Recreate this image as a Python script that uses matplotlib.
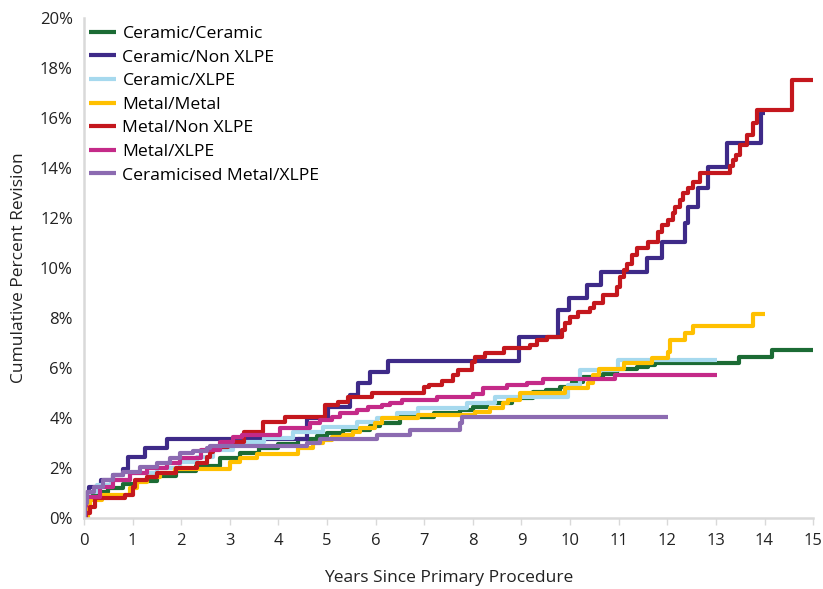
import matplotlib
matplotlib.use('Agg')
import matplotlib.pyplot as plt
from matplotlib.ticker import FuncFormatter

plt.rcParams['font.family'] = ['Open Sans', 'DejaVu Sans']

# Kaplan-Meier style cumulative revision curves (years, percent)
t_cc = [0, 0.03, 0.1, 0.25, 0.5, 0.8, 1.1, 1.5, 1.9, 2.3, 2.8, 3.2, 3.6, 4.0, 4.4, 4.8, 5.0,
        5.33, 5.88, 6.1, 6.5, 7.2, 7.74, 8.0, 8.3, 8.8, 9.24, 9.5, 9.8, 10.04, 10.27, 10.68,
        10.96, 11.38, 11.6, 11.75, 13.48, 14.15, 15.0]
v_cc = [0, 0.6, 0.9, 1.05, 1.2, 1.35, 1.5, 1.7, 1.9, 2.1, 2.4, 2.6, 2.8, 2.95, 3.15, 3.3, 3.4,
        3.52, 3.68, 3.8, 4.05, 4.2, 4.32, 4.45, 4.6, 4.8, 5.04, 5.12, 5.24, 5.45, 5.65, 5.75,
        5.96, 6.04, 6.12, 6.2, 6.44, 6.72, 6.72]

t_cn = [0, 0.02, 0.1, 0.35, 0.6, 0.8, 0.9, 1.26, 1.7, 4.59, 5.02, 5.47, 5.64, 5.88, 6.25,
        8.95, 9.75, 9.98, 10.35, 10.64, 11.58, 11.9, 12.37, 12.42, 12.63, 12.84, 13.23, 13.93, 14.0]
v_cn = [0, 0.9, 1.24, 1.52, 1.72, 1.96, 2.44, 2.8, 3.16, 4.0, 4.44, 4.92, 5.4, 5.84, 6.28,
        7.24, 8.32, 8.8, 9.32, 9.84, 10.4, 11.04, 11.8, 12.44, 13.2, 14.04, 15.0, 16.2, 16.2]

t_cx = [0, 0.02, 0.1, 0.27, 0.55, 0.95, 1.5, 1.98, 2.32, 2.65, 3.07, 3.7, 4.3, 4.92, 5.62, 6.03,
        6.44, 6.87, 7.88, 8.46, 9.96, 10.2, 10.99, 13.02]
v_cx = [0, 0.5, 1.04, 1.32, 1.52, 1.8, 2.0, 2.24, 2.44, 2.72, 3.04, 3.2, 3.44, 3.64, 3.84, 4.0,
        4.2, 4.4, 4.6, 4.84, 5.32, 5.92, 6.32, 6.32]

t_mm = [0, 0.08, 0.12, 0.37, 0.95, 1.1, 1.3, 1.56, 1.87, 3.0, 3.21, 3.56, 4.4, 4.71, 4.92, 5.1,
        5.33, 5.53, 5.68, 5.99, 6.13, 6.87, 8.05, 8.35, 8.62, 8.72, 8.97, 9.9, 10.37, 10.47,
        10.6, 11.1, 11.68, 12.02, 12.05, 12.37, 12.53, 13.77, 14.0]
v_mm = [0, 0.44, 0.72, 0.92, 1.2, 1.44, 1.64, 1.8, 1.96, 2.24, 2.4, 2.56, 2.8, 3.0, 3.12, 3.24,
        3.32, 3.44, 3.6, 3.8, 4.0, 4.12, 4.24, 4.4, 4.6, 4.72, 5.0, 5.2, 5.4, 5.72,
        5.96, 6.2, 6.4, 6.64, 7.12, 7.4, 7.68, 8.16, 8.16]

t_mn = [0, 0.05, 0.12, 0.23, 0.84, 1.0, 1.05, 1.29, 1.5, 1.9, 2.32, 2.53, 2.6, 2.65, 2.96, 3.3,
        3.68, 4.14, 4.96, 5.23, 5.43, 5.93, 7.0, 7.1, 7.37, 7.6, 7.7, 7.98, 8.05, 8.25, 8.64,
        9.18, 9.32, 9.53, 9.84, 9.9, 10.0, 10.16, 10.41, 10.5, 10.68, 10.96, 11.03, 11.1,
        11.17, 11.27, 11.38, 11.6, 11.8, 11.9, 12.02, 12.12, 12.16, 12.26, 12.33, 12.43,
        12.53, 12.67, 13.29, 13.36, 13.42, 13.5, 13.64, 13.77, 13.85, 14.57, 15.0]
v_mn = [0, 0.2, 0.44, 0.8, 0.92, 1.24, 1.52, 1.64, 1.8, 2.0, 2.2, 2.44, 2.64, 2.84, 3.04, 3.44,
        3.84, 4.04, 4.52, 4.64, 4.84, 5.0, 5.24, 5.32, 5.48, 5.72, 5.92, 6.24, 6.44, 6.6, 6.8,
        6.92, 7.12, 7.24, 7.52, 7.8, 8.04, 8.24, 8.4, 8.6, 8.92, 9.24, 9.64, 9.92,
        10.16, 10.5, 10.8, 11.04, 11.44, 11.72, 11.92, 12.2, 12.44, 12.72, 13.0, 13.2,
        13.44, 13.8, 14.08, 14.32, 14.52, 14.92, 15.32, 15.8, 16.32, 17.52, 17.52]

t_mx = [0, 0.02, 0.05, 0.33, 0.6, 0.95, 1.3, 1.7, 1.98, 2.4, 2.8, 3.07, 3.25, 4.03, 4.65, 4.86,
        5.1, 5.27, 5.62, 5.84, 6.13, 6.3, 6.54, 7.26, 8.0, 8.21, 8.7, 9.12, 9.44, 10.93, 13.02]
v_mx = [0, 0.5, 0.84, 1.24, 1.52, 1.8, 2.0, 2.2, 2.4, 2.72, 3.04, 3.24, 3.32, 3.6, 3.8, 3.92,
        4.04, 4.2, 4.32, 4.44, 4.52, 4.6, 4.72, 4.84, 4.96, 5.2, 5.32, 5.42, 5.56, 5.72, 5.72]

t_cm = [0, 0.02, 0.06, 0.2, 0.4, 0.6, 0.8, 1.15, 1.5, 1.77, 1.98, 2.25, 2.53, 2.6, 4.59, 4.86,
        6.03, 6.71, 7.74, 7.78, 12.02]
v_cm = [0, 0.6, 1.04, 1.24, 1.52, 1.72, 1.84, 2.04, 2.2, 2.4, 2.6, 2.68, 2.8, 2.88, 3.0, 3.16,
        3.32, 3.52, 3.8, 4.04, 4.04]

series = [
    ('Ceramic/Ceramic', t_cc, v_cc, '#1B6B34'),
    ('Ceramic/Non XLPE', t_cn, v_cn, '#3E2A88'),
    ('Ceramic/XLPE', t_cx, v_cx, '#A6D9EE'),
    ('Metal/Metal', t_mm, v_mm, '#FFC000'),
    ('Metal/Non XLPE', t_mn, v_mn, '#C4171D'),
    ('Metal/XLPE', t_mx, v_mx, '#C42A88'),
    ('Ceramicised Metal/XLPE', t_cm, v_cm, '#8C6BB1'),
]

fig = plt.figure(figsize=(8.23, 5.89), dpi=100)
ax = fig.add_axes([0.102, 0.1205, 0.886, 0.849])

for name, t, v, col in series:
    ax.step(t, v, where='post', color=col, lw=3.0, label=name, solid_capstyle='butt')

ax.set_xlim(0, 15)
ax.set_ylim(0, 20)
ax.set_xticks(range(0, 16))
ax.set_yticks(range(0, 21, 2))
ax.yaxis.set_major_formatter(FuncFormatter(lambda y, _: f'{int(y)}%'))

for side in ('top', 'right'):
    ax.spines[side].set_visible(False)
for side in ('left', 'bottom'):
    ax.spines[side].set_color('#D9D9D9')
    ax.spines[side].set_linewidth(1.8)
ax.tick_params(axis='x', colors='#D9D9D9', length=5, width=1, labelcolor='#222222',
               labelsize=12, pad=6)
ax.tick_params(axis='y', length=0, labelcolor='#222222', labelsize=12, pad=8)

ax.set_xlabel('Years Since Primary Procedure', fontsize=12.5, color='#222222', labelpad=15)
ax.set_ylabel('Cumulative Percent Revision', fontsize=12.5, color='#222222', labelpad=9)

ax.legend(loc='upper left', bbox_to_anchor=(0.0, 0.995), frameon=False, fontsize=12.6,
          handlelength=1.55, handletextpad=0.35, labelspacing=0.42, borderpad=0.3,
          borderaxespad=0.0)

fig.savefig('out.png', dpi=100, facecolor='white')
